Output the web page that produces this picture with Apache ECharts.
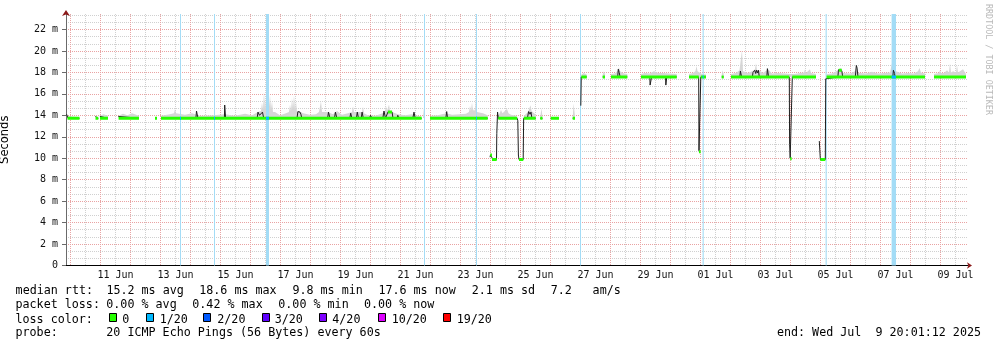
<!DOCTYPE html>
<html><head><meta charset="utf-8">
<script src="https://cdn.jsdelivr.net/npm/echarts@6/dist/echarts.min.js"></script>
<style>html,body{margin:0;padding:0;background:#fff}#c{width:997px;height:347px}</style>
</head><body><div id="c"></div>
<script>
// x values: days from the left edge of the 30-day window; y values: milliseconds
const L = 13.72, H = 17.57;
const X_MAX = 30.0667, Y_MAX = 23.445;

const xLabelT = [1.65, 3.65, 5.65, 7.65, 9.65, 11.65, 13.65, 15.65, 17.65, 19.65, 21.65, 23.65, 25.65, 27.65, 29.65];
const xLabels = ['11 Jun','13 Jun','15 Jun','17 Jun','19 Jun','21 Jun','23 Jun','25 Jun','27 Jun','29 Jun','01 Jul','03 Jul','05 Jul','07 Jul','09 Jul'];
const yMajor = [0,2,4,6,8,10,12,14,16,18,20,22];

const medianPts = [
 [0.02,14.1],[0.07,L],[0.45,L], null,
 [0.98,13.9],[1.0,L],[1.077,L], null,
 [1.13,13.9],[1.15,L],[1.4,L], null,
 [1.743,13.9],[1.76,L],[2.433,L], null,
 [2.967,L],[3.033,L], null,
 [3.167,L],[4.33,L],[4.35,14.4],[4.38,14.3],[4.4,L],
 [5.28,L],[5.29,14.96],[5.31,14.9],[5.32,L],
 [6.37,L],[6.4,14.3],[6.45,14.0],[6.5,14.0],[6.55,14.3],[6.59,L],
 [7.7,L],[7.73,14.35],[7.8,14.3],[7.83,14.1],[7.86,L],
 [8.72,L],[8.75,14.3],[8.8,L],
 [8.95,L],[8.98,14.3],[9.03,L],
 [9.46,L],[9.49,14.2],[9.53,L],
 [9.68,L],[9.71,14.3],[9.75,L],
 [9.84,L],[9.87,14.3],[9.91,L],
 [10.12,L],[10.15,14.0],[10.2,L],
 [10.56,L],[10.6,14.4],[10.65,L],[10.7,L],[10.73,14.3],[10.87,14.3],[10.9,L],
 [11.03,L],[11.06,14.0],[11.1,L],
 [11.56,L],[11.6,14.3],[11.64,L],[11.856,L], null,
 [12.133,L],[12.66,L],[12.69,14.35],[12.72,L],[14.057,L], null,
 [14.135,10.1],[14.15,10.3],[14.2,10.25],[14.23,9.88],[14.35,9.88],[14.36,12.3],[14.385,14.3],[14.41,L],
 [15.04,L],[15.06,13.5],[15.08,10.3],[15.1,9.88],[15.24,9.88],[15.255,L],
 [15.38,L],[15.42,14.35],[15.47,14.1],[15.5,14.3],[15.53,L],[15.657,L], null,
 [15.81,L],[15.883,L], null,
 [16.157,L],[16.433,L], null,
 [16.89,L],[16.967,L], null,
 [17.16,14.9],[17.175,H],[17.357,H], null,
 [17.89,H],[17.967,H], null,
 [18.167,H],[18.39,H],[18.41,18.3],[18.44,18.0],[18.47,H],[18.71,H], null,
 [19.167,H],[19.46,H],[19.47,16.82],[19.5,16.82],[19.52,H],[19.985,H],[19.995,16.82],[20.015,16.85],[20.025,H],[20.357,H], null,
 [20.767,H],[21.09,H],[21.1,10.7],[21.12,10.55],[21.15,10.6],[21.16,H],[21.333,H], null,
 [21.857,H],[21.923,H], null,
 [22.167,H],[22.46,H],[22.48,18.13],[22.52,H],
 [22.88,H],[22.9,18.0],[22.93,17.9],[22.96,18.2],[22.99,17.9],[23.02,18.2],[23.05,17.95],[23.08,18.2],[23.11,H],
 [23.36,H],[23.38,18.35],[23.42,H],
 [24.11,H],[24.12,11.3],[24.14,10.0],[24.19,9.95],[24.21,H],[25.0,H], null,
 [25.11,11.6],[25.13,11.5],[25.145,9.88],[25.31,9.88],[25.325,17.4],[25.345,H],
 [25.73,H],[25.75,18.25],[25.8,18.2],[25.86,18.15],[25.89,H],
 [26.31,H],[26.345,18.65],[26.37,18.4],[26.4,H],
 [27.56,H],[27.58,18.2],[27.62,17.9],[27.63,H],[28.633,H], null,
 [28.933,H],[30.0,H]
];

// [start, end, ms] horizontal runs of the loss-coloured median band
const greenRuns = [
 [0.05,0.45,L],[0.983,1.077,L],[1.133,1.4,L],[1.753,2.433,L],[2.967,3.033,L],
 [3.167,11.856,L],[10.73,10.87,14.3],[12.133,14.057,L],
 [14.14,14.2,10.3],[14.2,14.357,9.88],[14.41,15.04,L],[15.1,15.243,9.88],[15.26,15.657,L],
 [15.81,15.883,L],[16.157,16.433,L],[16.89,16.967,L],
 [17.18,17.357,H],[17.89,17.967,H],[18.167,18.71,H],[19.167,20.357,H],
 [20.767,21.09,H],[21.1,21.155,10.6],[21.16,21.333,H],[21.857,21.923,H],
 [22.167,24.11,H],[24.14,24.19,9.95],[24.21,25.0,H],
 [25.11,25.13,11.6],[25.145,25.31,9.88],[25.35,28.633,H],[25.76,25.86,18.2],
 [28.933,30.0,H]
];

const smokeLow = [
 [0.03,13.95],[0.2,13.9],[0.45,13.85], null,
 [1.13,13.95],[1.25,14.1],[1.4,13.95], null,
 [1.75,13.95],[1.9,14.15],[2.05,14.0],[2.2,14.2],[2.43,13.95], null,
 [3.167,13.95],[3.467,14.1],[3.6,14.2],[3.633,14.6],[3.667,14.2],[3.733,14.3],[3.967,14.05],[4.2,14.2],[4.467,13.95],
 [4.9,14.0],[5.3,14.1],[5.633,13.95],[5.967,14.15],[6.2,14.0],[6.4,14.3],[6.5,14.4],[6.533,15.2],[6.567,14.5],
 [6.6,16.2],[6.633,14.6],[6.667,15.6],[6.7,14.7],[6.733,16.6],[6.767,14.8],[6.8,15.9],[6.833,14.6],[6.867,15.3],
 [6.9,14.3],[6.967,14.3],[7.133,14.0],[7.333,14.2],[7.433,14.3],[7.467,15.0],[7.5,14.4],[7.533,15.6],[7.567,14.6],
 [7.6,15.9],[7.633,14.5],[7.667,15.3],[7.7,14.3],[7.767,14.4],[7.9,14.2],[8.133,14.05],[8.333,14.1],[8.433,14.3],
 [8.467,14.3],[8.5,15.3],[8.533,14.3],[8.567,14.2],[8.733,14.3],[8.9,14.1],[9.033,14.4],[9.2,14.05],[9.4,14.2],
 [9.533,14.3],[9.567,14.85],[9.6,14.3],[9.733,14.3],[9.867,14.3],[9.9,14.8],[9.933,14.2],[10.067,14.0],[10.3,13.95],
 [10.467,14.1],[10.633,14.3],[10.667,14.9],[10.7,14.4],[10.767,15.0],[10.8,14.4],[10.867,14.3],[11.067,14.1],
 [11.3,14.0],[11.533,14.1],[11.733,13.95],[11.856,13.9], null,
 [11.9,13.8],[11.94,14.96],[11.97,13.8], null,
 [12.167,13.95],[12.4,14.0],[12.667,14.2],[12.867,14.05],[13.133,14.1],[13.333,14.15],[13.433,14.3],[13.467,14.9],
 [13.5,14.4],[13.533,15.2],[13.567,14.4],[13.6,14.6],[13.633,14.4],[13.667,15.6],[13.7,14.3],[13.9,14.2],[14.057,14.0], null,
 [14.417,13.95],[14.5,14.5],[14.55,14.2],[14.6,14.3],[14.7,14.6],[14.75,14.2],[14.833,14.05],[15.017,13.95], null,
 [15.267,13.95],[15.4,14.3],[15.483,14.95],[15.52,14.4],[15.567,14.5],[15.657,14.05], null,
 [15.81,13.9],[15.85,14.65],[15.883,13.9], null,
 [16.157,13.8],[16.3,13.85],[16.433,13.8], null,
 [16.89,13.8],[16.92,15.1],[16.967,13.9]
];

const smokeHigh = [
 [17.18,17.8],[17.25,17.95],[17.357,17.8], null,
 [17.89,17.8],[17.93,18.1],[17.967,17.8], null,
 [18.167,17.85],[18.3,17.9],[18.4,18.2],[18.43,18.45],[18.47,18.1],[18.5,18.2],[18.6,17.9],[18.71,17.85], null,
 [19.167,17.85],[19.3,17.95],[19.45,17.9],[19.6,18.1],[19.75,17.95],[19.9,17.95],[20.1,17.9],[20.357,17.85], null,
 [20.767,17.85],[20.9,17.95],[20.98,18.1],[21.02,18.6],[21.05,18.1],[21.08,18.2],[21.2,17.85],[21.333,17.8], null,
 [21.857,17.8],[21.89,18.2],[21.923,17.8], null,
 [22.167,17.85],[22.333,17.95],[22.45,18.2],[22.5,18.2],[22.533,20.1],[22.567,18.1],[22.6,18.2],[22.733,17.95],
 [22.867,18.1],[22.967,18.3],[23.0,18.85],[23.033,18.2],[23.1,18.2],[23.233,17.95],[23.4,18.3],[23.533,17.9],
 [23.733,17.95],[23.967,17.9],[24.133,17.85],[24.3,17.85],[24.467,17.95],[24.6,18.0],[24.633,18.3],[24.667,17.95],
 [24.8,18.3],[24.833,17.95],[25.0,17.85], null,
 [25.367,17.85],[25.533,17.9],[25.733,18.2],[25.833,18.4],[25.9,17.95],[26.133,17.9],[26.3,18.1],[26.333,18.5],
 [26.367,18.0],[26.467,17.95],[26.667,17.9],[26.867,18.05],[27.067,17.9],[27.267,17.95],[27.467,18.0],[27.533,18.1],
 [27.567,19.3],[27.6,18.1],[27.667,18.1],[27.867,17.9],[28.067,17.95],[28.267,17.9],[28.4,18.1],[28.45,18.4],
 [28.5,18.0],[28.633,17.9], null,
 [28.933,17.85],[29.1,17.95],[29.133,18.2],[29.167,17.95],[29.267,17.95],[29.367,18.2],[29.433,18.0],[29.467,18.85],
 [29.5,18.0],[29.567,18.1],[29.667,18.0],[29.7,18.7],[29.733,18.0],[29.8,18.1],[29.9,18.3],[30.0,17.85]
];

// [start, end] of intervals with 1/20 packet loss
const lossBands = [[3.8,3.833],[4.933,4.967],[6.667,6.767],[11.933,11.967],[13.667,13.7],[17.133,17.167],[21.22,21.257],[25.32,25.357],[27.52,27.667]];

// grid positions: midnights (major) / noons (minor); 2 ms major, 1/3 of that minor
const xMajorT = [], xMinorT = [];
for (let k = 0; k < 30; k++) { xMajorT.push(0.15 + k); xMinorT.push(0.65 + k); }
const yMinor = [];
for (let i = 0; i <= 35; i++) { if (i % 3 !== 0) yMinor.push(+(i * 2 / 3).toFixed(4)); }

function toLine(pts) {
  const out = []; let last = 0;
  pts.forEach(p => { if (p === null) out.push([last, null]); else { out.push(p); last = p[0]; } });
  return out;
}
function runsToLine(runs) {
  const out = [];
  runs.forEach(r => { out.push([r[0], r[2]], [r[1], r[2]], [r[1], null]); });
  return out;
}
const lossRuns = [];
lossBands.forEach(b => {
  const c = (b[0] + b[1]) / 2;
  const r = greenRuns.find(g => c >= g[0] && c <= g[1]);
  if (r) lossRuns.push([b[0], b[1], r[2]]);
});

const RED = '#e9a3a3', GRAY = '#d0d0d0', SMOKE = '#d6d6d6';
const MONO = '"DejaVu Sans Mono", monospace';
const chart = echarts.init(document.getElementById('c'), null, {renderer: 'canvas'});

const legendLines = [
  {y: 291, items: [['median rtt:', 15.6], ['15.2 ms avg', 106.4], ['18.6 ms max', 199.2], ['9.8 ms min', 292.4], ['17.6 ms now', 378.4], ['2.1 ms sd', 471.8], ['7.2', 550.8], ['am/s', 592.6]]},
  {y: 305.3, items: [['packet loss:', 15.5], ['0.00 % avg', 106.3], ['0.42 % max', 192.3], ['0.00 % min', 278.3], ['0.00 % now', 364]]},
  {y: 319.5, items: [['loss color:', 15.5], ['0', 122.3], ['1/20', 159.7], ['2/20', 217.3], ['3/20', 274.7], ['4/20', 332.3], ['10/20', 391.7], ['19/20', 456.7]]},
  {y: 333.3, items: [['probe:', 15.5], ['20 ICMP Echo Pings (56 Bytes) every 60s', 106.3]]}
];
const lossColors = ['#26ff00', '#00b8ff', '#0059ff', '#5e00ff', '#7e00ff', '#dd00ff', '#ff0000'];
const boxX = [109, 146, 203, 262, 319, 378, 443];

const graphics = [];
legendLines.forEach(line => line.items.forEach(it => graphics.push({
  type: 'text', x: it[1], y: line.y, silent: true,
  style: {text: it[0], font: '11.7px ' + MONO, fill: '#000', align: 'left', verticalAlign: 'middle'}
})));
graphics.push({type: 'text', x: 981, y: 333.3, silent: true,
  style: {text: 'end: Wed Jul  9 20:01:12 2025', font: '11.7px ' + MONO, fill: '#000', align: 'right', verticalAlign: 'middle'}});
lossColors.forEach((c, i) => graphics.push({
  type: 'rect', silent: true, shape: {x: boxX[i] + 0.5, y: 313.5, width: 7, height: 8},
  style: {fill: c, stroke: '#000', lineWidth: 1}
}));
graphics.push({type: 'text', x: 988, y: 4, rotation: -Math.PI / 2, silent: true,
  style: {text: 'RRDTOOL / TOBI OETIKER', font: '8.4px ' + MONO, fill: '#b9b9b9', align: 'left', verticalAlign: 'middle'}});

const dots = [1, 1];
chart.setOption({
  animation: false,
  backgroundColor: '#ffffff',
  grid: {left: 66, top: 14, width: 902, height: 251.5, containLabel: false, outerBoundsMode: 'none'},
  xAxis: [{
    type: 'value', min: 0, max: X_MAX, position: 'bottom', offset: 0,
    axisLine: {show: true, onZero: false, lineStyle: {color: '#000', width: 1}},
    axisTick: {show: false, customValues: xMajorT},
    splitLine: {show: true, lineStyle: {color: RED, type: dots, width: 1}},
    axisLabel: {
      show: true, customValues: xLabelT, margin: 5, color: '#111',
      fontFamily: 'DejaVu Sans Mono', fontSize: 10,
      formatter: v => {
        let bi = 0;
        xLabelT.forEach((t, i) => { if (Math.abs(t - v) < Math.abs(xLabelT[bi] - v)) bi = i; });
        return xLabels[bi];
      }
    }
  }, {
    type: 'value', min: 0, max: X_MAX, position: 'bottom', offset: 0,
    axisLine: {show: true, onZero: false, symbol: ['none', 'arrow'], symbolSize: [5, 5], symbolOffset: [0, 4],
      lineStyle: {color: '#8b1a1a', width: 0}},
    axisTick: {show: false, customValues: xMinorT}, axisLabel: {show: false},
    splitLine: {show: true, lineStyle: {color: GRAY, type: dots, width: 1}}
  }],
  yAxis: [{
    type: 'value', min: 0, max: Y_MAX, position: 'left', offset: 0,
    name: 'Seconds', nameLocation: 'middle', nameRotate: 90, nameGap: 55,
    nameTextStyle: {fontFamily: 'DejaVu Sans', fontSize: 11.5, color: '#000'},
    axisLine: {show: true, onZero: false, lineStyle: {color: '#6a6a6a', width: 1}},
    axisTick: {show: true, customValues: yMajor, length: 4, lineStyle: {color: '#6a6a6a'}},
    axisLabel: {show: true, customValues: yMajor, margin: 8, color: '#111',
      fontFamily: 'DejaVu Sans Mono', fontSize: 10,
      formatter: v => (Math.abs(v) < 1e-9 ? '0' : Math.round(v) + ' m')},
    splitLine: {show: true, lineStyle: {color: RED, type: dots, width: 1}}
  }, {
    type: 'value', min: 0, max: Y_MAX, position: 'left', offset: 0,
    axisLine: {show: true, onZero: false, symbol: ['none', 'arrow'], symbolSize: [6, 6], symbolOffset: [0, 4],
      lineStyle: {color: '#8b1a1a', width: 0}},
    axisTick: {show: false, customValues: yMinor},
    axisLabel: {show: false},
    splitLine: {show: true, lineStyle: {color: GRAY, type: dots, width: 1}}
  }],
  graphic: graphics,
  series: [
    {type: 'line', name: 'smokeLow', z: 1, silent: true, symbol: 'none', connectNulls: false,
     data: toLine(smokeLow), lineStyle: {width: 0}, itemStyle: {color: SMOKE},
     areaStyle: {color: SMOKE, opacity: 1, origin: L}},
    {type: 'line', name: 'smokeHigh', z: 1, silent: true, symbol: 'none', connectNulls: false,
     data: toLine(smokeHigh), lineStyle: {width: 0}, itemStyle: {color: SMOKE},
     areaStyle: {color: SMOKE, opacity: 1, origin: H}},
    {type: 'custom', name: 'loss', z: 3, silent: true, data: lossBands,
     encode: {x: [0, 1]},
     renderItem: (params, api) => {
       const p0 = api.coord([api.value(0), Y_MAX]);
       const p1 = api.coord([api.value(1), 0]);
       return {type: 'rect', shape: {x: p0[0], y: p0[1], width: p1[0] - p0[0], height: p1[1] - p0[1]},
               style: {fill: '#a3dcf6'}};
     }},
    {type: 'line', name: 'median', z: 4, silent: true, symbol: 'none', connectNulls: false,
     data: toLine(medianPts), lineStyle: {color: '#202020', width: 1}},
    {type: 'line', name: 'loss0', z: 5, silent: true, symbol: 'none', connectNulls: false,
     data: runsToLine(greenRuns), lineStyle: {color: '#26ff00', width: 3, cap: 'butt'}},
    {type: 'line', name: 'loss1', z: 6, silent: true, symbol: 'none', connectNulls: false,
     data: runsToLine(lossRuns), lineStyle: {color: '#00b8ff', width: 3, cap: 'butt'}}
  ]
});
</script>
</body></html>
